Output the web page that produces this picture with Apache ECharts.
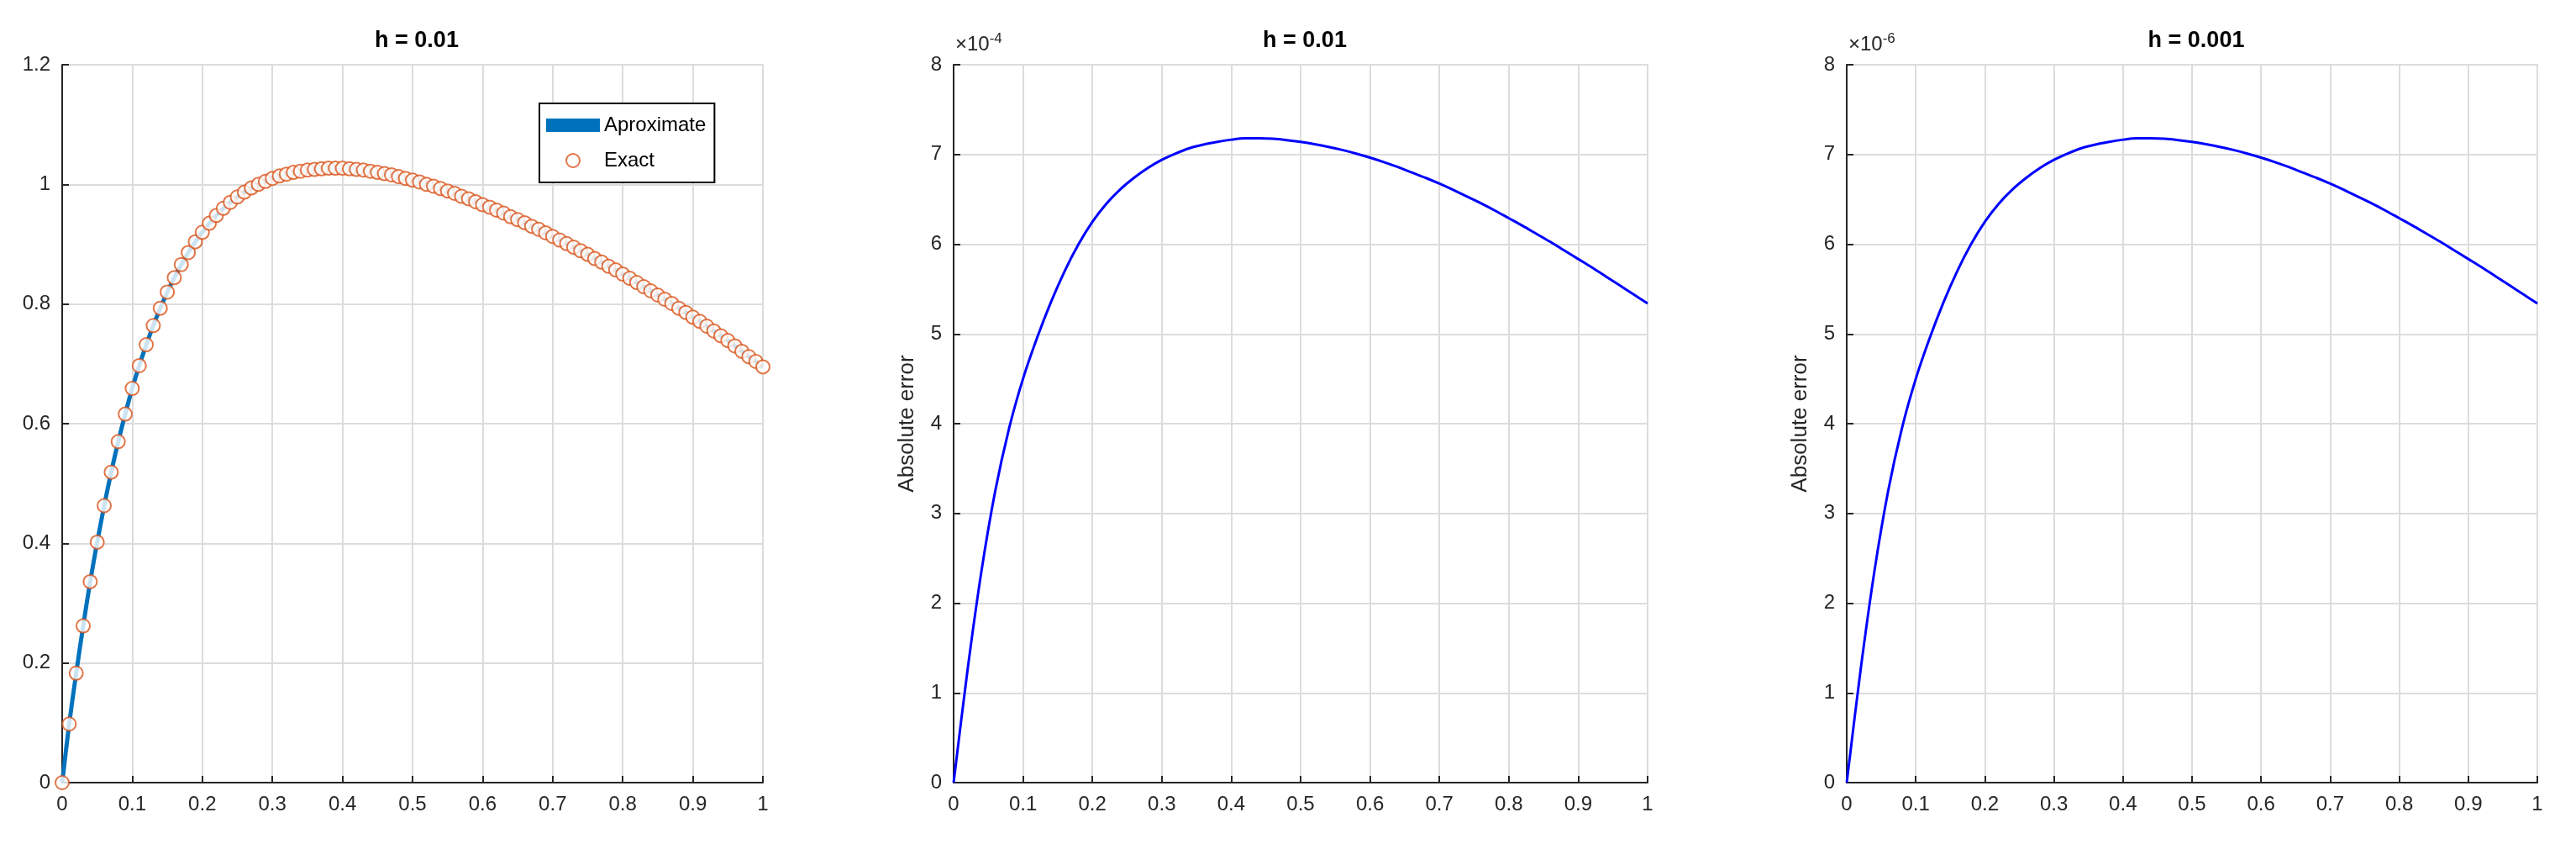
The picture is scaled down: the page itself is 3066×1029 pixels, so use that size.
<!DOCTYPE html>
<html><head><meta charset="utf-8">
<script src="https://cdn.jsdelivr.net/npm/echarts@6/dist/echarts.min.js"></script>
<style>html,body{margin:0;padding:0;background:#fff}#c{width:3066px;height:1029px}</style>
</head><body><div id="c"></div>
<script>
const titles = ["h = 0.01", "h = 0.01", "h = 0.001"];
const xTicks = [0,0.1,0.2,0.3,0.4,0.5,0.6,0.7,0.8,0.9,1];
const solution = [0,0.098,0.183,0.262,0.336,0.402,0.463,0.519,0.570,0.616,0.659,
0.697,0.732,0.764,0.793,0.820,0.844,0.866,0.886,0.904,0.920,
0.935,0.948,0.960,0.970,0.979,0.987,0.994,1.000,1.005,1.010,
1.014,1.017,1.020,1.022,1.024,1.025,1.026,1.027,1.027,1.027,
1.026,1.025,1.024,1.022,1.020,1.018,1.016,1.013,1.010,1.007,
1.004,1.000,0.997,0.993,0.989,0.985,0.980,0.976,0.971,0.966,
0.962,0.957,0.952,0.946,0.941,0.936,0.930,0.925,0.919,0.913,
0.907,0.901,0.895,0.889,0.883,0.876,0.870,0.863,0.857,0.850,
0.843,0.836,0.829,0.822,0.815,0.808,0.801,0.793,0.786,0.778,
0.771,0.763,0.755,0.747,0.739,0.730,0.721,0.712,0.704,0.695];
const errorMantissa = [0,1.25,2.35,3.25,3.95,4.5,4.95,5.35,5.7,6.0,6.25,6.45,6.61,6.74,6.85,6.94,7.01,7.07,7.11,7.14,7.165,7.18,7.18,7.175,7.16,7.14,7.115,7.085,7.05,7.01,6.965,6.915,6.86,6.80,6.74,6.675,6.605,6.53,6.455,6.375,6.29,6.205,6.115,6.025,5.93,5.835,5.74,5.64,5.54,5.44,5.34];
const exponents = ["-4","-6"];

const fine = solution.map((v,i)=>[+(i*0.01).toFixed(2), v]);
const coarse = errorMantissa.map((v,i)=>[+(i*0.02).toFixed(2), v]);

const F = "Liberation Sans, Arial, sans-serif";
const grids = [{left:74,width:834},{left:1135,width:826},{left:2198,width:822}];
const axisCommon = {
  axisLine:{show:true,lineStyle:{color:'#262626',width:2}},
  axisTick:{show:true,inside:true,length:8,lineStyle:{color:'#262626',width:2}},
  axisLabel:{color:'#262626',fontSize:24,fontFamily:F,margin:14},
  splitLine:{show:true,lineStyle:{color:'#dcdcdc',width:2}}
};
const option = {
  animation:false,
  grid: grids.map(g=>({left:g.left,width:g.width,top:77,bottom:98,show:true,borderColor:'#dcdcdc',borderWidth:2})),
  title: titles.map((t,i)=>({text:t,left:grids[i].left+grids[i].width/2,textAlign:'center',top:30,
    textStyle:{fontSize:27,fontWeight:'bold',fontFamily:F,color:'#000'}})),
  xAxis: [0,1,2].map(i=>Object.assign({type:'value',gridIndex:i,min:0,max:1,interval:0.1},axisCommon,
    {axisLabel:Object.assign({},axisCommon.axisLabel,{formatter:v=>String(+v.toFixed(1))})})),
  yAxis: [
    Object.assign({type:'value',gridIndex:0,min:0,max:1.2,interval:0.2},axisCommon,
      {axisLabel:Object.assign({},axisCommon.axisLabel,{formatter:v=>String(+v.toFixed(1))})}),
    ...[1,2].map(i=>Object.assign({type:'value',gridIndex:i,min:0,max:8,interval:1},axisCommon,
      {name:'Absolute error',nameLocation:'middle',nameGap:42,nameRotate:90,
       nameTextStyle:{fontSize:26,fontFamily:F,color:'#262626'}}))
  ],
  graphic: [1,2].map((i,k)=>({type:'text',left:grids[i].left+2,top:38,
    style:{text:'×10{e|'+exponents[k]+'}',rich:{e:{fontSize:17,verticalAlign:'top',padding:[0,0,14,0],fontFamily:F,fill:'#262626'}},
      fontSize:24,fontFamily:F,fill:'#262626'}})),
  legend:{left:642,top:123,orient:'vertical',
    data:[{name:'Aproximate',icon:'rect',itemStyle:{color:'#0072BD'}},{name:'Exact',icon:'emptyCircle'}],
    borderColor:'#000',borderWidth:2,padding:[14,10,14,8],itemGap:18,itemWidth:64,itemHeight:16,
    textStyle:{fontSize:24,fontFamily:F,color:'#000'},backgroundColor:'#fff'},
  series:[
    {name:'Aproximate',type:'line',xAxisIndex:0,yAxisIndex:0,data:fine,showSymbol:false,smooth:0.3,
      lineStyle:{color:'#0072BD',width:5},itemStyle:{color:'#0072BD'},z:2},
    {name:'Exact',type:'scatter',xAxisIndex:0,yAxisIndex:0,data:fine,symbol:'emptyCircle',symbolSize:16,
      itemStyle:{color:'#D95319',borderColor:'#D95319',borderWidth:3},z:3},
    {type:'line',xAxisIndex:1,yAxisIndex:1,data:coarse,showSymbol:false,smooth:0.3,lineStyle:{color:'#0000FF',width:3}},
    {type:'line',xAxisIndex:2,yAxisIndex:2,data:coarse,showSymbol:false,smooth:0.3,lineStyle:{color:'#0000FF',width:3}}
  ]
};
echarts.init(document.getElementById('c')).setOption(option);
</script></body></html>
